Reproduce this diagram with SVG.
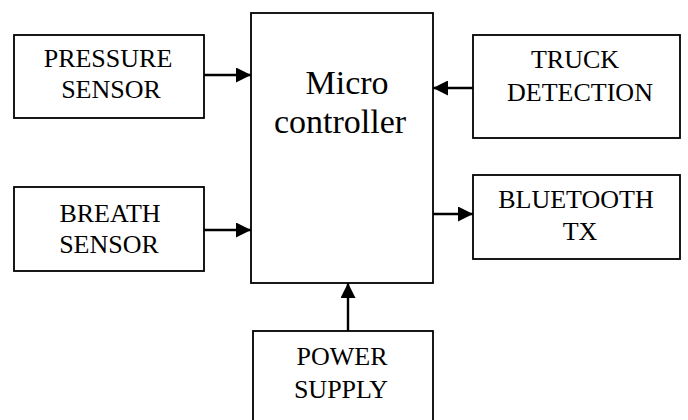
<svg xmlns="http://www.w3.org/2000/svg" width="688" height="420" viewBox="0 0 688 420">
  <defs>
    <marker id="arr" markerWidth="15" markerHeight="15" refX="15" refY="7.5" orient="auto" markerUnits="userSpaceOnUse">
      <path d="M0,0 L15,7.5 L0,15 Z" fill="#000"/>
    </marker>
    <style>
      .box { fill: #fff; stroke: #000; stroke-width: 1.8; }
      .lbl { font-family: "Liberation Serif", "Times New Roman", serif; font-size: 26px; fill: #000; text-anchor: middle; }
      .big { font-size: 34px; }
      .conn { stroke: #000; stroke-width: 2.4; fill: none; marker-end: url(#arr); }
    </style>
  </defs>
  <rect width="688" height="420" fill="#fff"/>
  <g id="microcontroller">
    <rect class="box" x="251" y="13" width="182" height="270"/>
    <text class="lbl big" x="347" y="94">Micro</text>
    <text class="lbl big" x="340" y="133">controller</text>
  </g>
  <g id="pressure-sensor">
    <rect class="box" x="14" y="35" width="190" height="83"/>
    <text class="lbl" x="108" y="67">PRESSURE</text>
    <text class="lbl" x="111" y="98">SENSOR</text>
  </g>
  <g id="breath-sensor">
    <rect class="box" x="14" y="187" width="190" height="84"/>
    <text class="lbl" x="110" y="222">BREATH</text>
    <text class="lbl" x="109" y="253">SENSOR</text>
  </g>
  <g id="truck-detection">
    <rect class="box" x="473" y="35" width="207" height="103"/>
    <text class="lbl" x="575" y="68">TRUCK</text>
    <text class="lbl" x="580" y="101">DETECTION</text>
  </g>
  <g id="bluetooth-tx">
    <rect class="box" x="473" y="175" width="207" height="84"/>
    <text class="lbl" x="576" y="208">BLUETOOTH</text>
    <text class="lbl" x="580" y="240">TX</text>
  </g>
  <g id="power-supply">
    <rect class="box" x="253" y="331" width="180" height="100"/>
    <text class="lbl" x="342" y="365">POWER</text>
    <text class="lbl" x="341" y="398">SUPPLY</text>
  </g>
  <g id="connectors">
    <line class="conn" x1="204" y1="75" x2="251" y2="75"/>
    <line class="conn" x1="204" y1="230" x2="251" y2="230"/>
    <line class="conn" x1="473" y1="88" x2="433" y2="88"/>
    <line class="conn" x1="433" y1="214" x2="473" y2="214"/>
    <line class="conn" x1="348" y1="331" x2="348" y2="283"/>
  </g>
</svg>
